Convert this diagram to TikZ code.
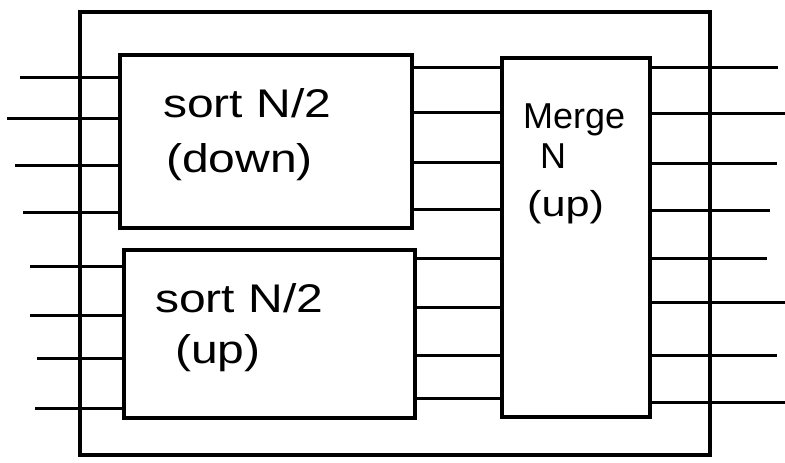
\documentclass[tikz,border=0pt]{standalone}
\usepackage{fontspec}
\setmainfont{Liberation Sans}
\newcommand{\wide}[1]{\scalebox{1.2}[1]{#1}}
\begin{document}
\begin{tikzpicture}[x=1pt,y=-1pt,
  box/.style={draw,line width=3.6pt,inner sep=0pt,rectangle},
  wire/.style={line width=3pt},
  lbl/.style={anchor=base west,inner sep=0pt,font=\fontsize{40}{46}\selectfont},
  mlbl/.style={anchor=base west,inner sep=0pt,font=\fontsize{36}{42}\selectfont}]
\useasboundingbox (0,0) rectangle (785,463);
% boxes
\node[box,minimum width=630pt,minimum height=443pt] (outer) at (395,233.5) {};
\node[box,minimum width=292pt,minimum height=173pt] (sa) at (266,141.5) {};
\node[box,minimum width=291pt,minimum height=168pt] (sb) at (269.5,334) {};
\node[box,minimum width=148pt,minimum height=359pt] (mg) at (576,237.5) {};
% labels
\node[lbl] (ta1) at (163,117) {\wide{sort N/2}};
\node[lbl] (ta2) at (166,172) {\wide{(down)}};
\node[lbl] (tb1) at (155,312) {\wide{sort N/2}};
\node[lbl] (tb2) at (175,363) {\wide{(up)}};
\node[mlbl] (tm1) at (523,128) {Merge};
\node[mlbl] (tm2) at (540,168) {N};
\node[mlbl] (tm3) at (527,216) {\wide{(up)}};
% input wires
\coordinate (i1) at (20,77);
\coordinate (i2) at (7,118);
\coordinate (i3) at (15,165);
\coordinate (i4) at (23,212);
\coordinate (i5) at (30,266);
\coordinate (i6) at (30,315);
\coordinate (i7) at (37,358);
\coordinate (i8) at (35,408);
\foreach \i in {1,...,4} \draw[wire] (i\i) -- (i\i -| sa.west);
\foreach \i in {5,...,8} \draw[wire] (i\i) -- (i\i -| sb.west);
% middle wires
\foreach \y in {67,112,162,209} \draw[wire] (sa.east |- 0,\y) -- (mg.west |- 0,\y);
\foreach \y in {258,307,355,398} \draw[wire] (sb.east |- 0,\y) -- (mg.west |- 0,\y);
% output wires
\coordinate (o1) at (778,67);
\coordinate (o2) at (785,113);
\coordinate (o3) at (777,163);
\coordinate (o4) at (770,210);
\coordinate (o5) at (767,258);
\coordinate (o6) at (785,302);
\coordinate (o7) at (777,355);
\coordinate (o8) at (785,402);
\foreach \i in {1,...,8} \draw[wire] (o\i -| mg.east) -- (o\i);
\end{tikzpicture}
\end{document}
